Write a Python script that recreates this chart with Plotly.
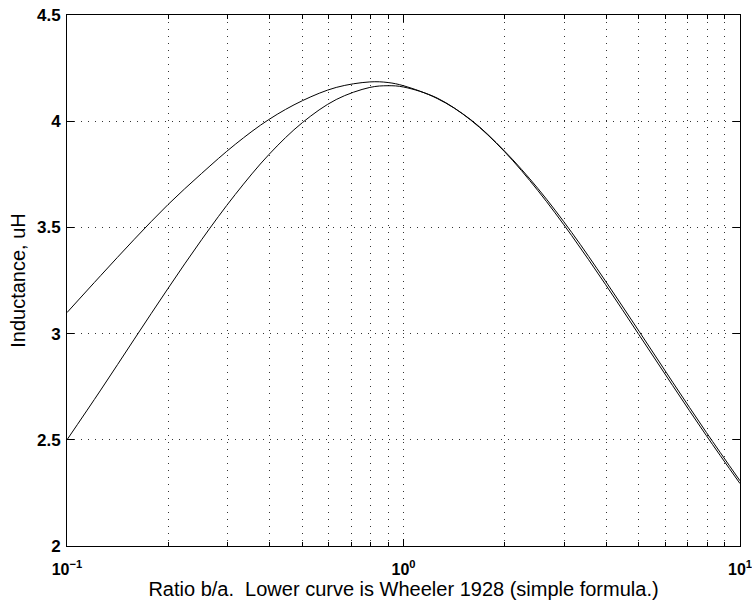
import plotly.graph_objects as go

# Ratio b/a (x) and inductance in uH
ratio = [0.1, 0.1259, 0.1585, 0.1995, 0.2512, 0.3162, 0.3981, 0.5012, 0.631,
         0.7943, 0.9, 1.0, 1.259, 1.585, 1.995, 2.512, 3.162, 3.981, 5.012,
         6.31, 7.943, 10.0]
upper_curve = [3.099, 3.273, 3.444, 3.607, 3.754, 3.891, 4.008, 4.097, 4.159,
               4.185, 4.182, 4.167, 4.107, 4.007, 3.860, 3.682, 3.476, 3.248,
               3.011, 2.771, 2.535, 2.307]
wheeler_1928 = [2.500, 2.734, 2.974, 3.212, 3.442, 3.655, 3.843, 3.994, 4.102,
                4.159, 4.167, 4.161, 4.109, 4.005, 3.857, 3.672, 3.461, 3.232,
                2.994, 2.755, 2.520, 2.294]

x_tick_vals = [0.1, 1, 10]
x_tick_text = ["<b>10<sup>−1</sup></b>", "<b>10<sup>0</sup></b>", "<b>10<sup>1</sup></b>"]
y_tick_vals = [2, 2.5, 3, 3.5, 4, 4.5]
y_tick_text = ["<b>2</b>", "<b>2.5</b>", "<b>3</b>", "<b>3.5</b>", "<b>4</b>", "<b>4.5</b>"]

x_title = "Ratio b/a.\u00a0 Lower curve is Wheeler 1928 (simple formula.)"
y_title = "Inductance, uH"

fig = go.Figure()
for ys in (upper_curve, wheeler_1928):
    fig.add_trace(go.Scatter(x=ratio, y=ys, mode="lines",
                             line=dict(color="black", width=1, shape="spline"),
                             showlegend=False, hoverinfo="skip"))

grid_kw = dict(showgrid=True, gridcolor="#333333", gridwidth=1, griddash="1px,6px")
font_family = "Liberation Sans, Arial, Helvetica, sans-serif"

fig.update_xaxes(type="log", range=[-1, 1], tickvals=x_tick_vals, ticktext=x_tick_text,
                 ticks="inside", ticklen=7, tickcolor="black", showline=True,
                 linecolor="black", linewidth=1, mirror="allticks", zeroline=False,
                 ticklabeloverflow="allow", ticklabelstandoff=9,
                 tickfont=dict(family=font_family, size=16, color="black"),
                 minor=dict(ticks="inside", ticklen=4, tickcolor="black", dtick="D1",
                            showgrid=True, gridcolor="#333333", gridwidth=1,
                            griddash="1px,6px"),
                 title=dict(text=x_title, font=dict(family=font_family, size=20, color="black"),
                            standoff=2),
                 **grid_kw)
fig.update_yaxes(range=[2, 4.5], tickvals=y_tick_vals, ticktext=y_tick_text,
                 ticks="inside", ticklen=7,
                 tickcolor="black", showline=True, linecolor="black", linewidth=1,
                 mirror="allticks", zeroline=False, ticklabelstandoff=2,
                 tickfont=dict(family=font_family, size=17, color="black"),
                 title=dict(text=y_title, font=dict(family=font_family, size=20, color="black"),
                            standoff=5),
                 **grid_kw)

fig.update_layout(width=752, height=604, paper_bgcolor="white", plot_bgcolor="white",
                  margin=dict(l=67, r=12, t=15, b=58, autoexpand=False))

fig.write_html("out.html", config={"displayModeBar": False},
               post_script="document.body.style.margin='0';document.body.style.overflow='hidden';")
